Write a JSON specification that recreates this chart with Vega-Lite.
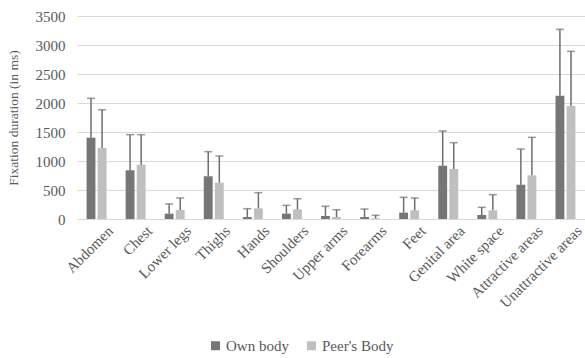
{
  "$schema": "https://vega.github.io/schema/vega-lite/v6.json",
  "width": 508,
  "height": 203,
  "autosize": "none",
  "padding": {"left": 77, "top": 16, "right": 0, "bottom": 139},
  "background": "white",
  "config": {
    "font": "Liberation Serif",
    "view": {"stroke": null},
    "axis": {"labelFont": "Liberation Serif", "titleFont": "Liberation Serif", "labelColor": "#595959", "titleColor": "#595959"},
    "legend": {"labelFont": "Liberation Serif", "titleFont": "Liberation Serif", "labelColor": "#595959"}
  },
  "data": {
    "values": [
      {"region": "Abdomen", "group": "Own body", "mean": 1402, "upper": 2081},
      {"region": "Abdomen", "group": "Peer's Body", "mean": 1224, "upper": 1884},
      {"region": "Chest", "group": "Own body", "mean": 840, "upper": 1454},
      {"region": "Chest", "group": "Peer's Body", "mean": 937, "upper": 1454},
      {"region": "Lower legs", "group": "Own body", "mean": 92, "upper": 259},
      {"region": "Lower legs", "group": "Peer's Body", "mean": 155, "upper": 362},
      {"region": "Thighs", "group": "Own body", "mean": 736, "upper": 1161},
      {"region": "Thighs", "group": "Peer's Body", "mean": 626, "upper": 1086},
      {"region": "Hands", "group": "Own body", "mean": 34, "upper": 178},
      {"region": "Hands", "group": "Peer's Body", "mean": 184, "upper": 454},
      {"region": "Shoulders", "group": "Own body", "mean": 92, "upper": 236},
      {"region": "Shoulders", "group": "Peer's Body", "mean": 167, "upper": 350},
      {"region": "Upper arms", "group": "Own body", "mean": 52, "upper": 219},
      {"region": "Upper arms", "group": "Peer's Body", "mean": 34, "upper": 160},
      {"region": "Forearms", "group": "Own body", "mean": 34, "upper": 172},
      {"region": "Forearms", "group": "Peer's Body", "mean": 12, "upper": 63},
      {"region": "Feet", "group": "Own body", "mean": 109, "upper": 374},
      {"region": "Feet", "group": "Peer's Body", "mean": 150, "upper": 362},
      {"region": "Genital area", "group": "Own body", "mean": 919, "upper": 1517},
      {"region": "Genital area", "group": "Peer's Body", "mean": 862, "upper": 1316},
      {"region": "White space", "group": "Own body", "mean": 69, "upper": 201},
      {"region": "White space", "group": "Peer's Body", "mean": 150, "upper": 419},
      {"region": "Attractive areas", "group": "Own body", "mean": 591, "upper": 1207},
      {"region": "Attractive areas", "group": "Peer's Body", "mean": 753, "upper": 1408},
      {"region": "Unattractive areas", "group": "Own body", "mean": 2126, "upper": 3270},
      {"region": "Unattractive areas", "group": "Peer's Body", "mean": 1948, "upper": 2891}
    ]
  },
  "encoding": {
    "x": {
      "field": "region", "type": "nominal", "sort": null,
      "scale": {"paddingInner": 0.49, "paddingOuter": 0.245},
      "axis": {"title": null, "labelAngle": -45, "labelFontSize": 15, "ticks": false, "domain": false, "labelPadding": 4, "labelAlign": "right", "labelBaseline": "top", "labelOffset": 9, "labelOverlap": false}
    },
    "xOffset": {"field": "group", "type": "nominal", "scale": {"paddingInner": 0.2}},
    "y": {
      "field": "mean", "type": "quantitative",
      "scale": {"domain": [0, 3500], "nice": false},
      "axis": {"values": [0, 500, 1000, 1500, 2000, 2500, 3000, 3500], "labelOverlap": false, "format": "d", "title": "Fixation duration (in ms)", "titleFontSize": 13.5, "titleFontWeight": "normal", "labelFontSize": 15, "ticks": false, "domain": false, "labelPadding": 12, "gridColor": "#d9d9d9", "gridWidth": 1.2, "titlePadding": 15}
    }
  },
  "layer": [
    {
      "mark": {"type": "bar"},
      "encoding": {
        "color": {
          "field": "group", "type": "nominal",
          "scale": {"range": ["#767676", "#bfbfbf"]},
          "legend": {"title": null, "orient": "none", "direction": "horizontal", "legendX": 131, "legendY": 322, "symbolType": "square", "symbolSize": 81, "labelFontSize": 15, "symbolStrokeWidth": 0, "columnPadding": 15, "labelOffset": 3}
        }
      }
    },
    {
      "mark": {"type": "rule", "color": "#6e6e6e", "strokeWidth": 1.5},
      "encoding": {
        "y2": {"field": "upper"}
      }
    },
    {
      "mark": {"type": "tick", "color": "#6e6e6e", "thickness": 1.5, "size": 8},
      "encoding": {
        "y": {"field": "upper", "type": "quantitative"}
      }
    }
  ]
}
